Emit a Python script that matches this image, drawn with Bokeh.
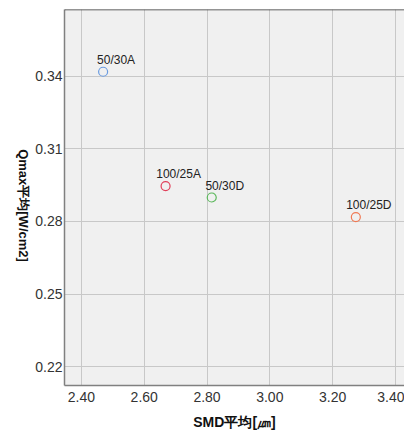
import math
from bokeh.plotting import figure
from bokeh.layouts import row
from bokeh.models import ColumnDataSource, FixedTicker, PrintfTickFormatter, Span, LabelSet, Label, Range1d
from bokeh.core.properties import value
from bokeh.embed import file_html
from bokeh.resources import INLINE

# ---- data ----
labels = ["50/30A", "100/25A", "50/30D", "100/25D"]
smd = [2.469, 2.668, 2.815, 3.274]
qmax = [0.3418, 0.2946, 0.2899, 0.2818]
colors = ["#6a9be0", "#e0405a", "#5cb85c", "#f07a55"]
x_ticks = [2.40, 2.60, 2.80, 3.00, 3.20, 3.40]
y_ticks = [0.22, 0.25, 0.28, 0.31, 0.34]
x_title = "SMD平均[㎛]"
y_title = "Qmax平均[W/cm2]"

X_START, X_END = 2.346, 3.429
Y_START, Y_END = 0.2123, 0.3675

LATIN = "Liberation Sans"
H = 432
LEFT_W = 32

src = ColumnDataSource(dict(x=smd, y=qmax, label=labels, color=colors))

# narrow strip holding the vertical (clockwise) y-axis title
side = figure(width=LEFT_W, height=H, output_backend="svg", toolbar_location=None,
              x_range=Range1d(0, 1), y_range=Range1d(0, 1),
              x_axis_type=None, y_axis_type=None,
              min_border_left=0, min_border_right=0, min_border_top=0, min_border_bottom=0)
side.grid.visible = False
side.outline_line_color = None
side.background_fill_color = "white"
side.border_fill_color = "white"
side.add_layout(Label(x=23, y=180, x_units="screen", y_units="screen", text=y_title,
                      angle=-math.pi / 2, text_align="center", text_baseline="middle",
                      text_font=LATIN, text_font_size="13px", text_font_style="bold",
                      text_color="#111111"))

p = figure(width=404 - LEFT_W, height=H, output_backend="svg", toolbar_location=None,
           x_range=Range1d(X_START, X_END), y_range=Range1d(Y_START, Y_END),
           min_border_left=63 - LEFT_W, min_border_right=0, min_border_top=9, min_border_bottom=47)

p.background_fill_color = "#f0f0f0"
p.border_fill_color = "white"
p.outline_line_color = None

p.xgrid.ticker = FixedTicker(ticks=x_ticks)
p.ygrid.ticker = FixedTicker(ticks=y_ticks)
p.grid.grid_line_color = "#c8c8c8"
p.grid.grid_line_width = 1

p.xaxis.ticker = FixedTicker(ticks=x_ticks)
p.yaxis.ticker = FixedTicker(ticks=y_ticks)
p.xaxis.formatter = PrintfTickFormatter(format="%.2f")
p.yaxis.formatter = PrintfTickFormatter(format="%.2f")

for ax in (p.xaxis[0], p.yaxis[0]):
    ax.axis_line_color = "#808080"
    ax.axis_line_width = 1.5
    ax.major_tick_line_color = None
    ax.minor_tick_line_color = None
    ax.major_tick_out = 0
    ax.major_tick_in = 0
    ax.minor_tick_out = 0
    ax.minor_tick_in = 0
    ax.major_label_text_font = LATIN
    ax.major_label_text_font_size = "14px"
    ax.major_label_text_color = "#333333"
    ax.axis_label_text_font = LATIN
    ax.axis_label_text_font_size = "14px"
    ax.axis_label_text_font_style = "bold"
    ax.axis_label_text_color = "#111111"

p.xaxis.major_label_standoff = 6
p.xaxis.axis_label_standoff = 9
p.yaxis.major_label_standoff = 2
p.xaxis.axis_label = x_title

p.add_layout(Span(location=Y_END, dimension="width", line_color="#333333", line_width=1.5))

p.scatter("x", "y", source=src, marker="circle", size=9, fill_color=None,
          line_color="color", line_width=1.2)

p.add_layout(LabelSet(x="x", y="y", text="label", source=src, x_offset=13, y_offset=8,
                      text_align="center", text_baseline="alphabetic",
                      text_font=value(LATIN), text_font_size=value("12px"),
                      text_color="#222222"))

layout = row(side, p, spacing=0)
open("out.html", "w").write(file_html(layout, INLINE))
